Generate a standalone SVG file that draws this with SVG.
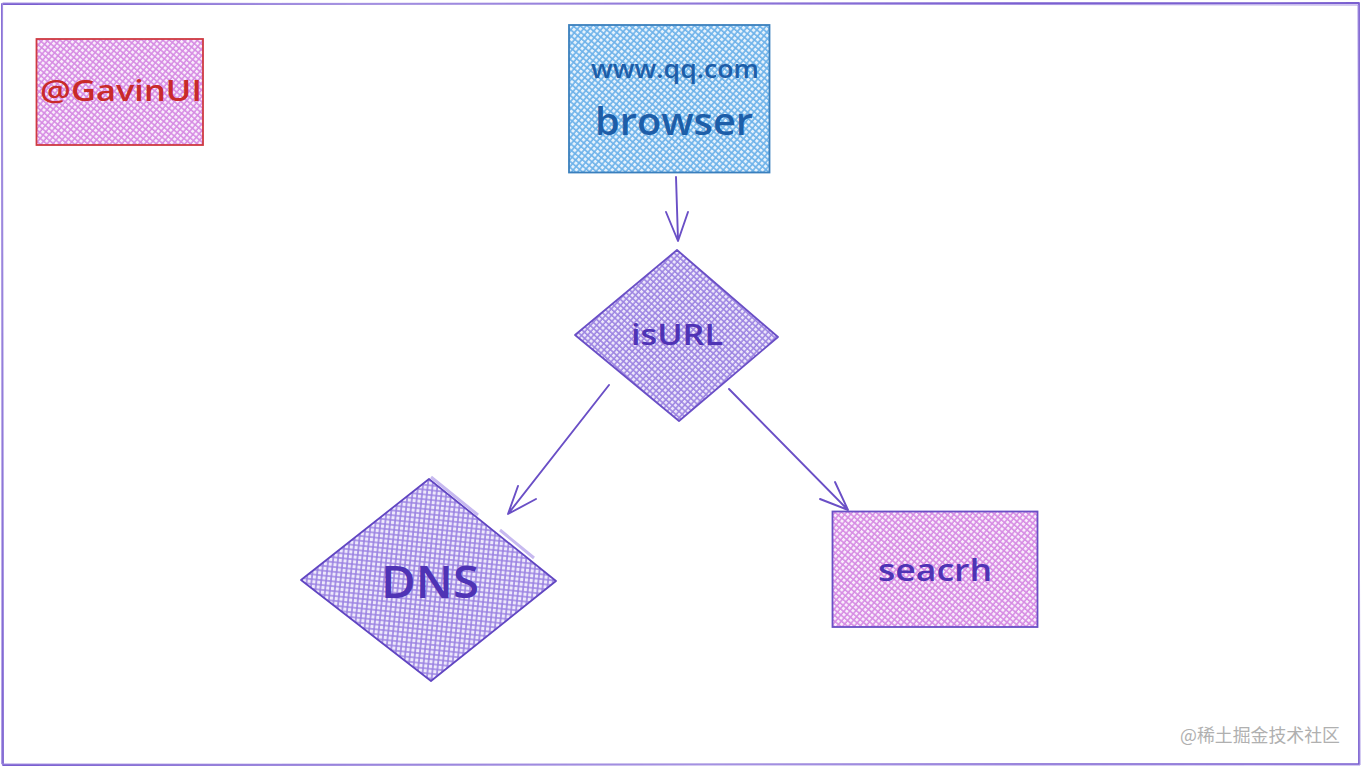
<svg xmlns="http://www.w3.org/2000/svg" width="1362" height="768" viewBox="0 0 1362 768">
<style>
.t{font-family:"Open Sans","Noto Sans",sans-serif;text-anchor:middle;font-weight:600}
.e{fill:none;stroke-linejoin:round;stroke-linecap:round}
.c{fill:none;stroke:#6a4fc6;stroke-width:1.900;stroke-linecap:round;stroke-linejoin:round}
</style>
<defs>
<pattern id="hb" width="4.600" height="4.600" patternUnits="userSpaceOnUse" patternTransform="rotate(40)">
<rect width="4.600" height="4.600" fill="#e6f2fc"/><path d="M0 1H4.600M1 0V4.600" stroke="#6db2ea" stroke-width="1.600"/></pattern>
<pattern id="hm" width="4.400" height="4.400" patternUnits="userSpaceOnUse" patternTransform="rotate(40)">
<rect width="4.400" height="4.400" fill="#f9ecfb"/><path d="M0 1H4.400M1 0V4.400" stroke="#d68ae3" stroke-width="1.500"/></pattern>
<pattern id="hp" width="4.400" height="4.400" patternUnits="userSpaceOnUse" patternTransform="rotate(42)">
<rect width="4.400" height="4.400" fill="#ece6fa"/><path d="M0 1H4.400M1 0V4.400" stroke="#9c84e2" stroke-width="1.500"/></pattern>
<pattern id="hd" width="4.800" height="4.800" patternUnits="userSpaceOnUse" patternTransform="rotate(6)">
<rect width="4.800" height="4.800" fill="#eee9fb"/><path d="M0 1H4.800M1 0V4.800" stroke="#9a82e2" stroke-width="1.600"/></pattern>
</defs>
<rect width="1362" height="768" fill="#fff"/>
<g id="frame"><path class="e" stroke="#7a5fd0" stroke-width="1.800" d="M2 4L1359 3L1359 764L3 765Z"/><path class="e" stroke="#a592e2" stroke-width="1" d="M3 3L1358 5L1360 765L2 764Z"/></g>
<g id="gavin"><rect x="36.500" y="39" width="166.500" height="106" fill="url(#hm)" stroke="#cf3a42" stroke-width="1.800"/><text class="t" x="121" y="101" font-size="29" fill="#c92a2a" textLength="162" lengthAdjust="spacingAndGlyphs">@GavinUI</text></g>
<g id="browser"><rect x="569" y="25" width="200.500" height="147.500" fill="url(#hb)" stroke="#3b80bd" stroke-width="1.800"/><text class="t" x="675" y="78" font-size="25" fill="#1d5ea8" textLength="168" lengthAdjust="spacingAndGlyphs">www.qq.com</text><text class="t" x="674" y="135" font-size="37" fill="#1d5ea8" textLength="158" lengthAdjust="spacingAndGlyphs">browser</text></g>
<g id="isurl"><path d="M677 250L778 337L679 421L575 335Z" fill="url(#hp)" stroke="#6a4fc6" stroke-width="1.800" stroke-linejoin="round"/><text class="t" x="677" y="345" font-size="28" fill="#4f33b5" textLength="92" lengthAdjust="spacingAndGlyphs">isURL</text></g>
<g id="dns"><path d="M429 479L556 581L431 681L301 580Z" fill="url(#hd)" stroke="#6146c2" stroke-width="1.800" stroke-linejoin="round"/><path d="M431 477L478 515M500 530L534 558" stroke="#c7b9f0" stroke-width="3" fill="none"/><text class="t" x="430" y="598" font-size="46" fill="#4f33b5" textLength="98" lengthAdjust="spacingAndGlyphs">DNS</text></g>
<g id="search"><rect x="832.500" y="511.500" width="205" height="115.500" fill="url(#hm)" stroke="#6a4fc6" stroke-width="1.800"/><text class="t" x="935" y="581" font-size="30" fill="#4f33b5" textLength="114" lengthAdjust="spacingAndGlyphs">seacrh</text></g>
<g id="connectors">
<path class="c" d="M676 177L678 240M666 212L678 241L688 212"/>
<path class="c" d="M609 385L508 514M518 486L508 514L536 499"/>
<path class="c" d="M729 389L848 510M835 482L848 510L820 499"/>
</g>
<text x="1260" y="742" font-family="'Noto Sans CJK SC',sans-serif" font-size="18" fill="#b0b0b0" text-anchor="middle" textLength="160" lengthAdjust="spacingAndGlyphs">@稀土掘金技术社区</text>
</svg>
